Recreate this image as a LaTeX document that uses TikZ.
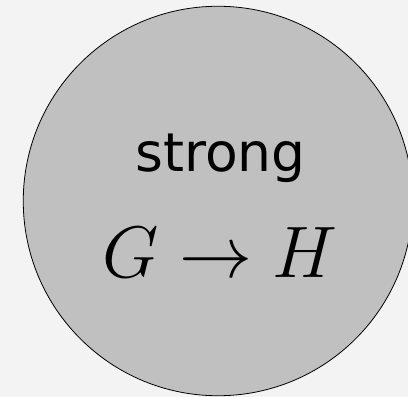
\RequirePackage{fix-cm}
\documentclass[tikz,border=0pt]{standalone}
\usepackage{fontspec}
\setsansfont{DejaVu Sans}
\usepackage{tikz}
\definecolor{bggray}{RGB}{243,243,243}
\definecolor{diskgray}{RGB}{192,192,192}

\begin{document}
\begin{tikzpicture}[x=1pt,y=1pt]
  \useasboundingbox (0,0) rectangle (408,397);
  \clip (0,0) rectangle (408,397);
  \fill[bggray] (0,0) rectangle (408,397);
  \node[circle,draw=black,line width=0.8pt,fill=diskgray,inner sep=0pt,minimum size=389.5pt] (disk) at (218,196) {};
  \node[anchor=base,inner sep=0pt,font=\sffamily\fontsize{53.5}{60}\selectfont] (kind) at (220.5,225) {strong};
  \node[anchor=base,inner sep=0pt,font=\fontsize{73}{80}\selectfont] (hom) at (220,119) {$G\to H$};
\end{tikzpicture}
\end{document}
